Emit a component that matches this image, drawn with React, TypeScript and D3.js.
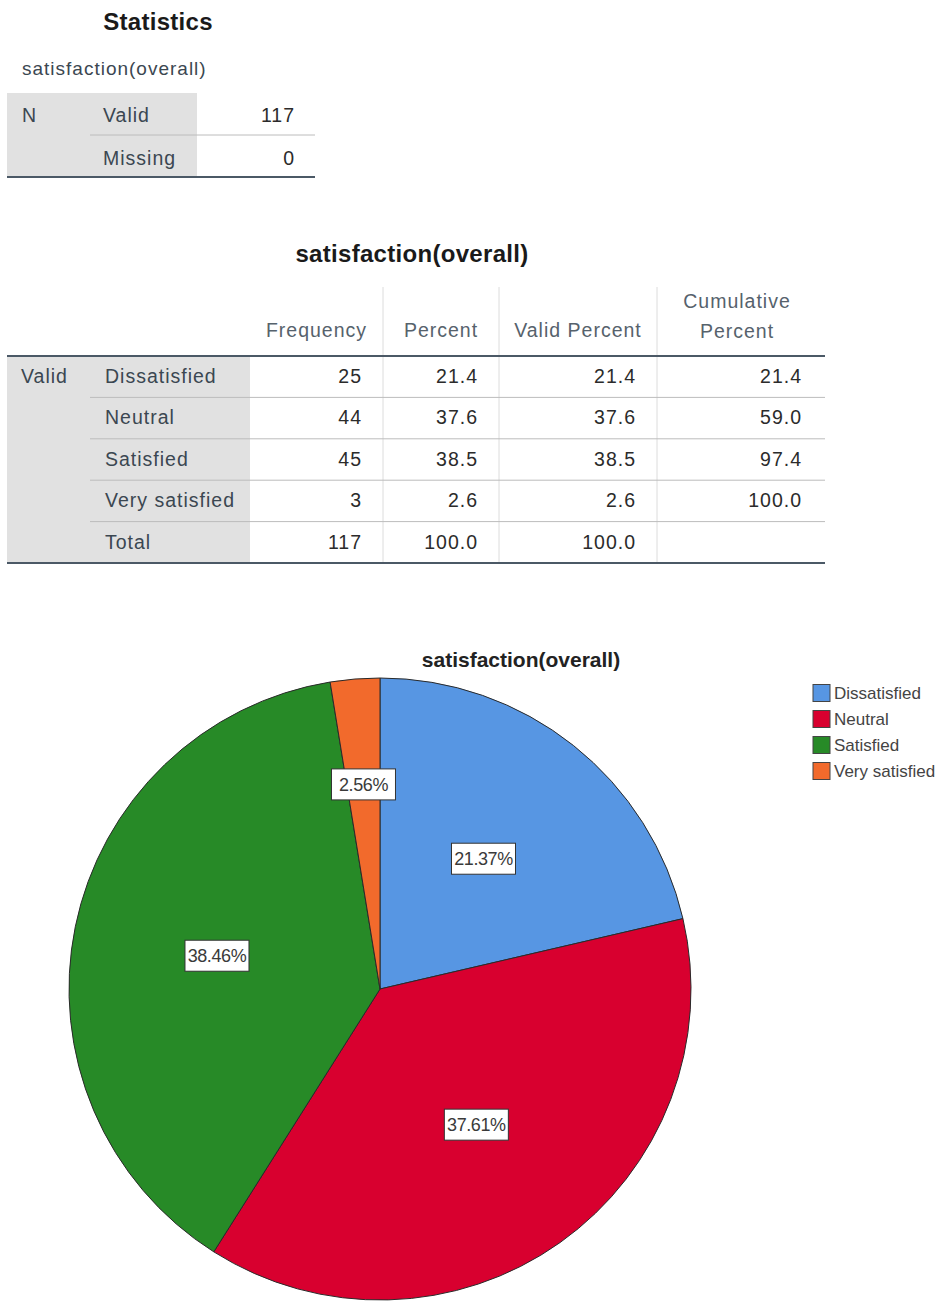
import React from 'react';
import * as d3 from 'd3';

const categories = ['Dissatisfied', 'Neutral', 'Satisfied', 'Very satisfied'];
const frequency = [25, 44, 45, 3];
const percent = ['21.4', '37.6', '38.5', '2.6'];
const validPercent = ['21.4', '37.6', '38.5', '2.6'];
const cumulativePercent = ['21.4', '59.0', '97.4', '100.0'];
const totalRow = { label: 'Total', frequency: '117', percent: '100.0', valid: '100.0', cumulative: '' };
const statsRows = [
  { label: 'Valid', value: '117' },
  { label: 'Missing', value: '0' },
];
const sliceColors = ['#5796e3', '#d8002f', '#278a27', '#f26a2c'];
const headers = ['Frequency', 'Percent', 'Valid Percent', 'Cumulative|Percent'];

const FONT = '"Liberation Sans", Arial, sans-serif';
const LABEL = '#3b4751';
const HEAD = '#56626c';
const VALUE = '#2b2b2b';
const RULE = '#4b5966';
const THIN = '#bcbcbc';

export default function App() {
  const W = 944;
  const H = 1302;

  // Frequency table geometry
  const colEdges = [250, 383, 499, 657, 825];
  const rowScale = d3.scaleBand<number>().domain(d3.range(5)).range([356, 563]);
  const rows = categories.map((c, i) => ({
    label: c,
    vals: [String(frequency[i]), percent[i], validPercent[i], cumulativePercent[i]],
  }));
  rows.push({ label: totalRow.label, vals: [totalRow.frequency, totalRow.percent, totalRow.valid, totalRow.cumulative] });

  // Pie
  const total = d3.sum(frequency);
  const cx = 380, cy = 989, R = 311;
  const pie = d3.pie<number>().sort(null).value((d) => d).startAngle(0).endAngle(2 * Math.PI);
  const arcs = pie(frequency);
  const arcGen = d3.arc<d3.PieArcDatum<number>>().innerRadius(0).outerRadius(R);

  const tableText = { fontFamily: FONT, fontSize: 19.5, letterSpacing: 1 } as const;

  return (
    <svg width={W} height={H} style={{ position: 'absolute', left: 0, top: 0, background: '#fff' }}>
      <rect width={W} height={H} fill="#fff" />

      {/* Statistics table */}
      <text x={158} y={30} textAnchor="middle" fontFamily={FONT} fontWeight="bold" fontSize={24} letterSpacing={0.3} fill="#1a1a1a">
        Statistics
      </text>
      <text x={22} y={75} {...tableText} fontSize={19} fill={LABEL}>
        satisfaction(overall)
      </text>
      <rect x={7} y={93} width={190} height={84} fill="#e1e1e1" />
      <text x={22} y={122} {...tableText} fill={LABEL}>N</text>
      {statsRows.map((r, i) => (
        <g key={r.label}>
          <text x={103} y={122 + i * 43} {...tableText} fill={LABEL}>{r.label}</text>
          <text x={295} y={122 + i * 43} {...tableText} textAnchor="end" fill={VALUE}>{r.value}</text>
        </g>
      ))}
      <line x1={90} x2={315} y1={135} y2={135} stroke={THIN} strokeWidth={1} />
      <line x1={7} x2={315} y1={177} y2={177} stroke={RULE} strokeWidth={2} />

      {/* Frequency table */}
      <text x={412} y={262} textAnchor="middle" fontFamily={FONT} fontWeight="bold" fontSize={24} letterSpacing={0.3} fill="#1a1a1a">
        satisfaction(overall)
      </text>
      <rect x={7} y={356} width={243} height={207} fill="#e1e1e1" />
      {colEdges.slice(1, 4).map((x) => (
        <line key={x} x1={x} x2={x} y1={287} y2={563} stroke="#dcdcdc" strokeWidth={1} />
      ))}
      {headers.map((h, i) => {
        const mid = (colEdges[i] + colEdges[i + 1]) / 2;
        const parts = h.split('|');
        return parts.length === 1 ? (
          <text key={h} x={mid} y={337} textAnchor="middle" {...tableText} fill={HEAD}>{h}</text>
        ) : (
          <g key={h}>
            <text x={mid - 4} y={308} textAnchor="middle" {...tableText} fill={HEAD}>{parts[0]}</text>
            <text x={mid - 4} y={338} textAnchor="middle" {...tableText} fill={HEAD}>{parts[1]}</text>
          </g>
        );
      })}
      <text x={21} y={(rowScale(0) ?? 0) + 27} {...tableText} fill={LABEL}>Valid</text>
      {rows.map((r, i) => {
        const y0 = rowScale(i) ?? 0;
        const base = y0 + 27;
        return (
          <g key={r.label}>
            <text x={105} y={base} {...tableText} fill={LABEL}>{r.label}</text>
            {r.vals.map((v, j) => (
              <text key={j} x={colEdges[j + 1] - (j === 3 ? 23 : 21)} y={base} textAnchor="end" {...tableText} fill={VALUE}>
                {v}
              </text>
            ))}
            {i < rows.length - 1 && (
              <line x1={90} x2={825} y1={y0 + rowScale.bandwidth()} y2={y0 + rowScale.bandwidth()} stroke={THIN} strokeWidth={1} />
            )}
          </g>
        );
      })}
      <line x1={7} x2={825} y1={356} y2={356} stroke={RULE} strokeWidth={2} />
      <line x1={7} x2={825} y1={563} y2={563} stroke={RULE} strokeWidth={2} />

      {/* Pie chart */}
      <text x={521} y={667} textAnchor="middle" fontFamily={FONT} fontWeight="bold" fontSize={21} fill="#222">
        satisfaction(overall)
      </text>
      <g transform={`translate(${cx},${cy})`}>
        {arcs.map((a, i) => (
          <path key={i} d={arcGen(a) ?? ''} fill={sliceColors[i]} stroke="#2a2a2a" strokeWidth={1} />
        ))}
        {arcs.map((a, i) => {
          const frac = a.value / total;
          const lr = frac < 0.05 ? R * 0.66 : R * 0.535;
          const [lx, ly] = d3.arc<d3.PieArcDatum<number>>().innerRadius(lr).outerRadius(lr).centroid(a);
          const txt = `${(frac * 100).toFixed(2)}%`;
          return (
            <g key={`l${i}`} transform={`translate(${lx},${ly})`}>
              <rect x={-32} y={-15.5} width={64} height={31} fill="#fff" stroke="#333" strokeWidth={1} />
              <text x={0} y={6.5} textAnchor="middle" fontFamily={FONT} fontSize={18} letterSpacing={-0.4} fill="#3a3a3a">
                {txt}
              </text>
            </g>
          );
        })}
      </g>

      {/* Legend */}
      {categories.map((c, i) => {
        const yc = 693 + i * 26;
        return (
          <g key={c}>
            <rect x={813} y={yc - 8.5} width={17} height={17} fill={sliceColors[i]} stroke="#444" strokeWidth={1} />
            <text x={834} y={yc + 6} fontFamily={FONT} fontSize={17} fill="#444">{c}</text>
          </g>
        );
      })}
    </svg>
  );
}
